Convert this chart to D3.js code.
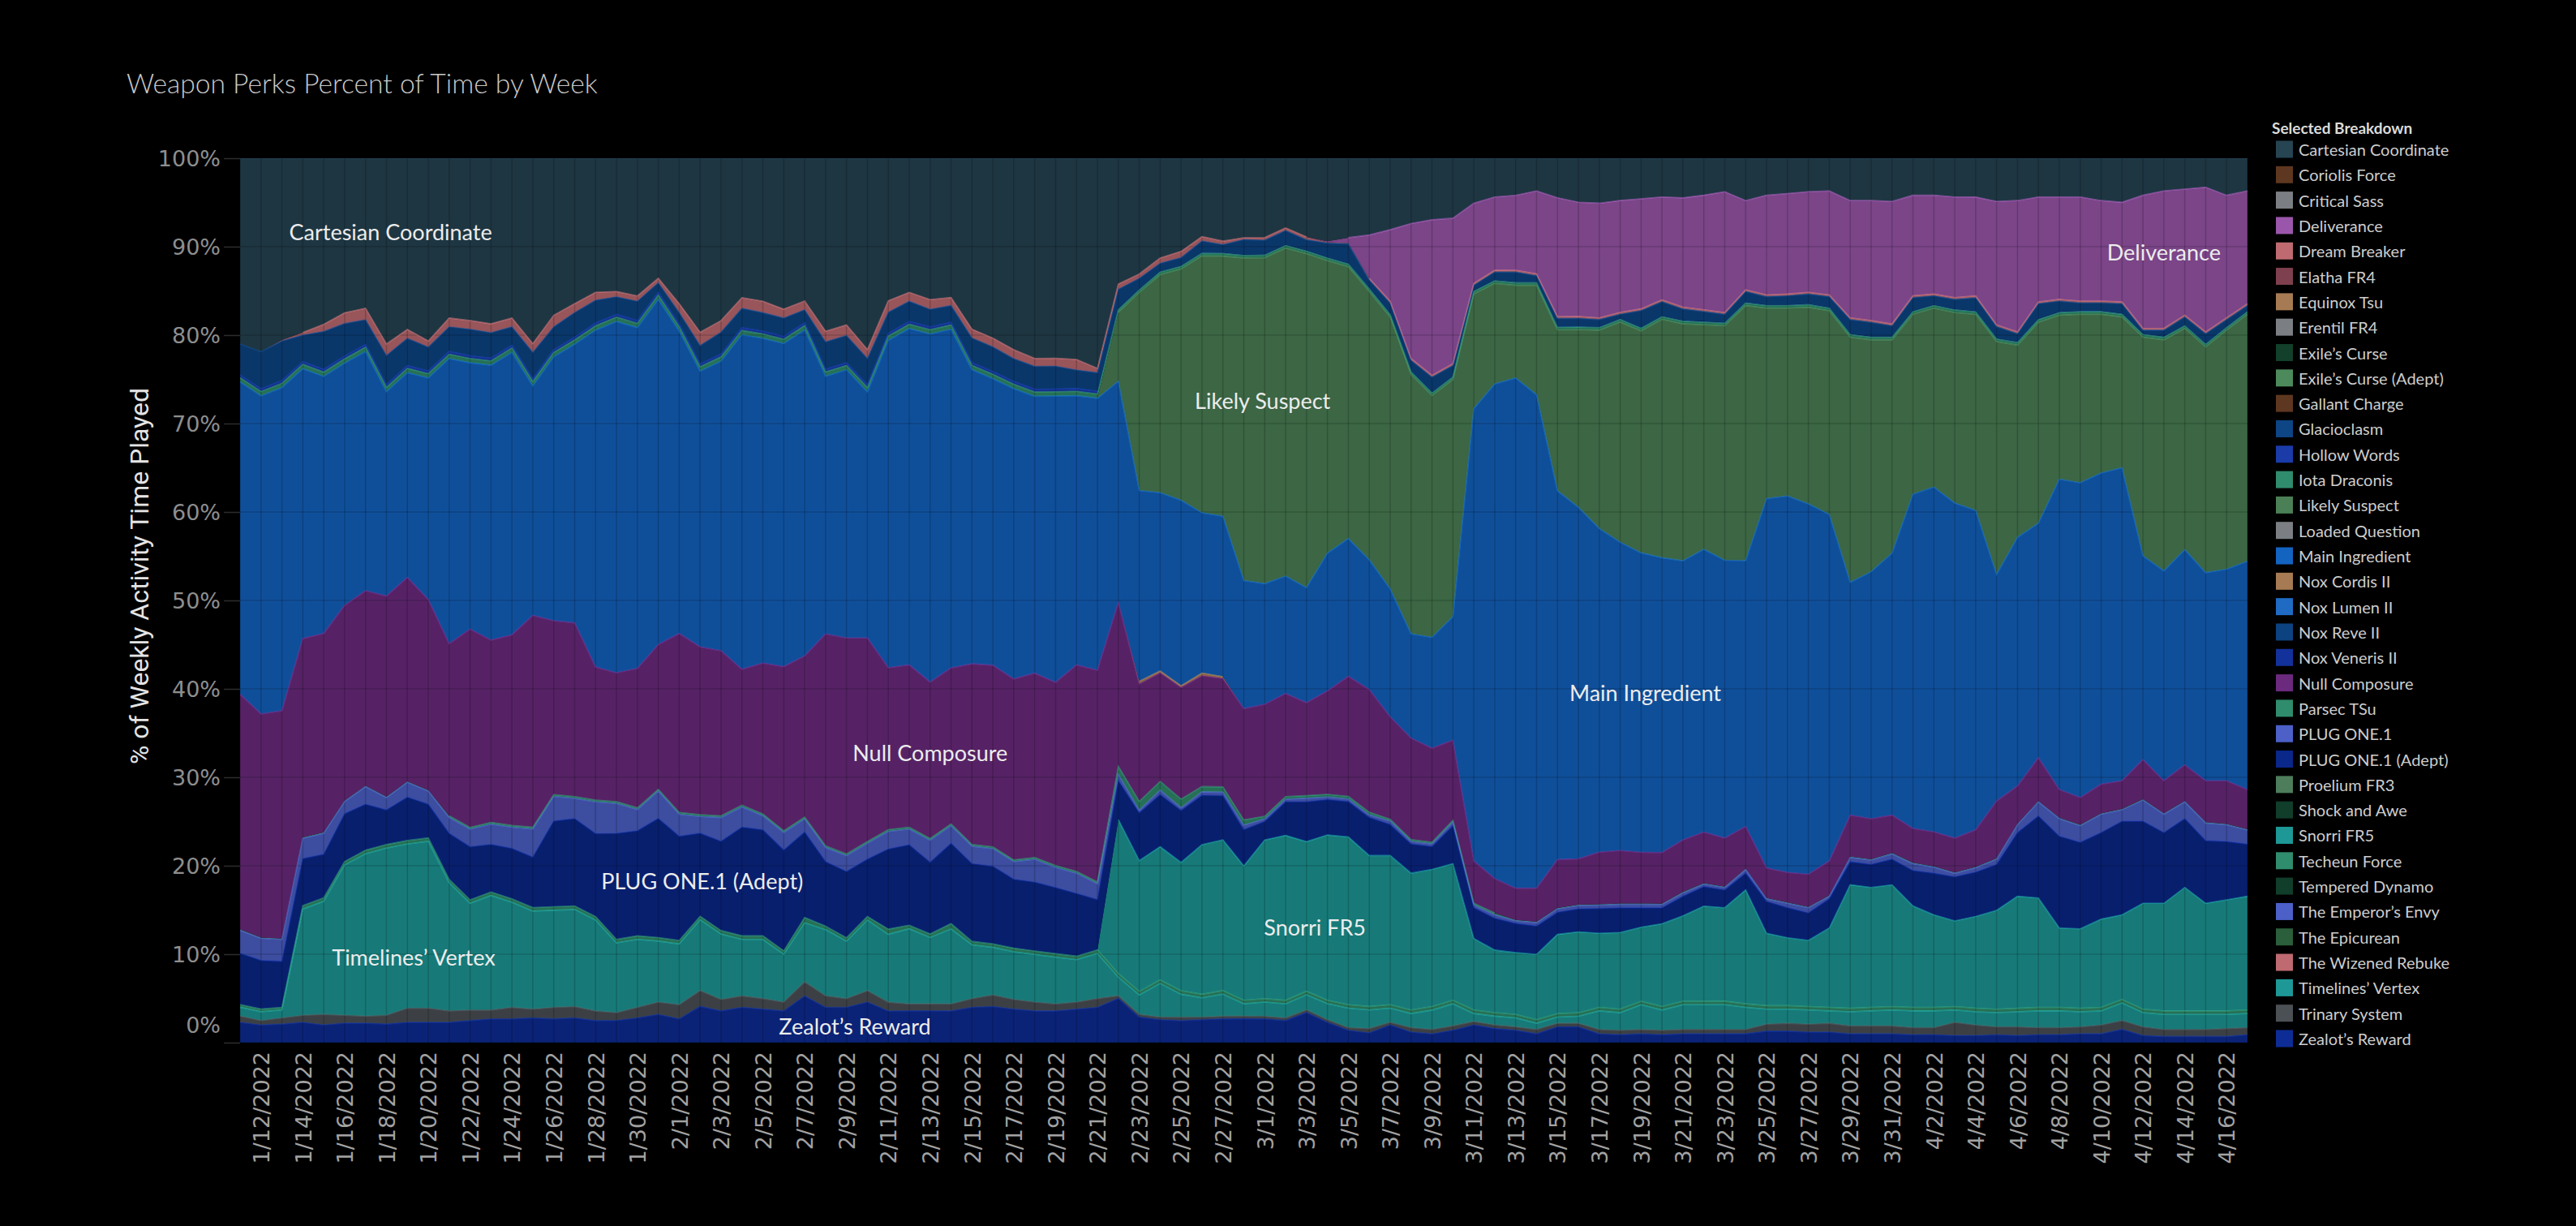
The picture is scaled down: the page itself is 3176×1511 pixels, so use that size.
<!DOCTYPE html>
<html><head><meta charset="utf-8">
<script src="https://cdn.jsdelivr.net/npm/d3@7"></script>
<style>html,body{margin:0;background:#000;}svg{display:block}</style>
</head><body>
<svg id="chart" width="3176" height="1511"></svg>
<script>
// ---------- DATA ----------
const dayLabels = [
"1/11","1/12","1/13","1/14","1/15","1/16","1/17","1/18","1/19","1/20",
"1/21","1/22","1/23","1/24","1/25","1/26","1/27","1/28","1/29","1/30",
"1/31","2/1","2/2","2/3","2/4","2/5","2/6","2/7","2/8","2/9",
"2/10","2/11","2/12","2/13","2/14","2/15","2/16","2/17","2/18","2/19",
"2/20","2/21","2/22","2/23","2/24","2/25","2/26","2/27","2/28","3/1",
"3/2","3/3","3/4","3/5","3/6","3/7","3/8","3/9","3/10","3/11",
"3/12","3/13","3/14","3/15","3/16","3/17","3/18","3/19","3/20","3/21",
"3/22","3/23","3/24","3/25","3/26","3/27","3/28","3/29","3/30","3/31",
"4/1","4/2","4/3","4/4","4/5","4/6","4/7","4/8","4/9","4/10",
"4/11","4/12","4/13","4/14","4/15","4/16","4/17"];
const year = "2022";

const xTickLabels = ["1/12/2022","1/14/2022","1/16/2022","1/18/2022","1/20/2022","1/22/2022","1/24/2022","1/26/2022","1/28/2022","1/30/2022",
"2/1/2022","2/3/2022","2/5/2022","2/7/2022","2/9/2022","2/11/2022","2/13/2022","2/15/2022","2/17/2022","2/19/2022","2/21/2022","2/23/2022","2/25/2022","2/27/2022",
"3/1/2022","3/3/2022","3/5/2022","3/7/2022","3/9/2022","3/11/2022","3/13/2022","3/15/2022","3/17/2022","3/19/2022","3/21/2022","3/23/2022","3/25/2022","3/27/2022","3/29/2022","3/31/2022",
"4/2/2022","4/4/2022","4/6/2022","4/8/2022","4/10/2022","4/12/2022","4/14/2022","4/16/2022"];
const yTickValues = [0,0.1,0.2,0.3,0.4,0.5,0.6,0.7,0.8,0.9,1];
const yTickLabels = ["0%","10%","20%","30%","40%","50%","60%","70%","80%","90%","100%"];

const categories = ["Cartesian Coordinate","Coriolis Force","Critical Sass","Deliverance","Dream Breaker","Elatha FR4","Equinox Tsu","Erentil FR4","Exile’s Curse","Exile’s Curse (Adept)","Gallant Charge","Glacioclasm","Hollow Words","Iota Draconis","Likely Suspect","Loaded Question","Main Ingredient","Nox Cordis II","Nox Lumen II","Nox Reve II","Nox Veneris II","Null Composure","Parsec TSu","PLUG ONE.1","PLUG ONE.1 (Adept)","Proelium FR3","Shock and Awe","Snorri FR5","Techeun Force","Tempered Dynamo","The Emperor’s Envy","The Epicurean","The Wizened Rebuke","Timelines’ Vertex","Trinary System","Zealot’s Reward"];
const categoryColors = ["#264452","#5e3720","#7b7f83","#9a56aa","#be6a70","#7e3f4f","#a67b53","#7b7f83","#12402a","#4d8a5b","#5e3720","#0d4585","#1a3ba8","#2f8c6c","#4b7f55","#7b7f83","#1363c0","#a67b53","#1f6bc4","#0d4280","#13319a","#6b2a7e","#2f8c6c","#4c60c8","#0a278a","#4d7d5b","#113d2b","#1d9896","#2f8c6c","#113d2b","#4c60c8","#2b5e3a","#be6a70","#1d9896","#4b5055","#0e2c95"];

const zealotsReward = [
2.3,2.0,2.1,2.3,2.0,2.2,2.2,2.1,2.3,2.3,
2.3,2.5,2.7,2.7,2.8,2.7,2.8,2.5,2.5,2.8,
3.2,2.7,4.1,3.6,4.0,3.8,3.6,5.3,4.0,4.0,
4.6,3.6,3.6,3.6,3.6,4.0,4.1,3.8,3.6,3.6,
3.8,4.0,5.0,2.9,2.6,2.5,2.6,2.7,2.7,2.7,
2.5,3.4,2.3,1.4,1.1,2.0,1.2,1.0,1.4,2.0,
1.6,1.4,1.0,1.8,1.8,1.0,0.9,1.0,0.9,1.0,
1.0,1.0,1.0,1.3,1.3,1.2,1.2,1.0,1.0,1.0,
0.9,0.9,0.8,0.8,0.9,0.8,0.9,0.9,1.0,1.0,
1.5,0.8,0.7,0.7,0.7,0.7,0.9];
const trinarySystem = [
0.7,0.5,0.7,0.8,1.2,0.9,0.8,1.0,1.6,1.6,
1.3,1.2,1.0,1.3,1.0,1.3,1.3,1.1,0.9,1.2,
1.4,1.6,1.8,1.3,1.3,1.2,1.0,1.6,1.3,1.0,
1.3,1.0,0.8,0.8,0.8,1.0,1.3,1.1,1.0,0.8,
0.8,1.0,0.3,0.3,0.3,0.4,0.3,0.3,0.3,0.3,
0.3,0.3,0.3,0.3,0.5,0.3,0.5,0.5,0.5,0.4,
0.4,0.4,0.5,0.4,0.4,0.5,0.5,0.5,0.5,0.5,
0.5,0.5,0.5,0.8,0.9,0.9,1.0,0.9,0.9,0.9,
0.8,0.8,1.5,1.2,0.9,1.0,0.8,0.8,0.8,1.0,
1.0,1.0,0.8,0.8,0.8,0.9,0.8];
const timelinesVertex = [
1.0,1.0,0.9,12.0,12.8,17.0,18.4,18.9,18.6,18.9,
14.5,12.1,13.0,11.9,11.1,11.0,11.0,10.3,7.9,7.7,
6.9,6.9,8.0,7.4,6.4,6.7,5.4,6.7,7.5,6.5,
8.0,7.7,8.5,7.5,8.5,6.1,5.4,5.4,5.4,5.3,
4.8,5.1,2.1,2.2,3.8,2.6,2.2,2.5,1.4,1.6,
1.6,1.7,1.8,2.2,2.1,1.6,1.6,2.2,2.5,0.9,
1.0,1.0,0.7,0.7,0.8,2.1,2.0,2.8,2.3,2.8,
2.8,2.8,2.5,1.7,1.6,1.6,1.4,1.6,1.7,1.8,
1.9,1.9,1.4,1.5,1.6,1.7,1.9,1.9,1.7,1.6,
2.0,1.6,1.7,1.7,1.7,1.6,1.6];
const techeunForce = [
0.3,0.3,0.3,0.4,0.4,0.4,0.4,0.4,0.4,0.4,
0.4,0.4,0.4,0.4,0.4,0.4,0.4,0.4,0.4,0.4,
0.4,0.4,0.4,0.4,0.4,0.4,0.4,0.6,0.4,0.4,
0.4,0.6,0.4,0.4,0.6,0.4,0.4,0.4,0.4,0.4,
0.4,0.4,0.4,0.4,0.4,0.4,0.4,0.4,0.4,0.4,
0.4,0.4,0.4,0.4,0.4,0.4,0.4,0.4,0.4,0.4,
0.4,0.4,0.4,0.4,0.4,0.4,0.4,0.4,0.4,0.4,
0.4,0.4,0.4,0.4,0.4,0.4,0.4,0.4,0.4,0.4,
0.4,0.4,0.4,0.4,0.4,0.4,0.4,0.4,0.4,0.4,
0.4,0.4,0.4,0.4,0.4,0.4,0.4];
const snorriFR5 = [
0,0,0,0,0,0,0,0,0,0,
0,0,0,0,0,0,0,0,0,0,
0,0,0,0,0,0,0,0,0,0,
0,0,0,0,0,0,0,0,0,0,
0,0,17.4,14.8,15.1,14.6,17.0,17.1,15.2,18.0,
18.7,16.9,18.7,19.0,17.1,16.9,15.5,15.6,15.5,8.1,
7.1,7.0,7.4,9.0,9.2,8.4,8.7,8.4,9.4,9.7,
10.8,10.6,12.9,8.2,7.7,7.5,9.0,14.0,13.6,13.8,
11.5,10.5,9.7,10.4,11.2,12.7,12.4,9.0,9.0,10.0,
9.6,12.0,12.2,14.0,12.2,12.6,12.9];
const plugOneAdept = [
5.8,5.5,5.2,5.3,4.9,5.4,5.2,3.9,4.9,3.8,
5.2,6.0,5.4,5.7,5.7,9.7,9.9,9.4,12.0,11.9,
13.5,11.8,9.4,10.1,12.3,12.0,11.4,9.7,7.3,7.5,
6.5,9.1,9.1,8.1,9.1,8.8,8.8,7.8,7.8,7.5,
7.1,5.7,4.4,5.4,5.9,5.9,5.6,5.0,4.1,2.1,
3.8,4.5,4.0,4.0,4.3,3.5,3.3,2.6,4.3,3.5,
3.6,3.3,3.2,2.5,2.6,2.8,2.8,2.2,1.8,2.2,
2.2,2.0,1.9,3.6,3.4,3.1,3.3,2.6,2.6,2.9,
4.0,4.7,5.0,5.0,5.2,7.2,9.3,10.4,9.8,9.8,
10.6,9.3,8.0,7.8,7.1,6.6,5.9];
const plugOne = [
2.6,2.5,2.5,2.3,2.4,1.4,2.0,1.4,1.7,1.5,
1.8,2.0,2.3,2.4,3.2,2.8,2.3,3.6,3.4,2.4,
3.1,2.5,1.9,2.7,2.3,1.6,2.0,1.5,1.6,1.8,
1.8,2.0,1.8,2.5,2.0,2.0,2.0,2.0,2.6,2.3,
2.3,1.8,0.7,0.3,0.5,0.3,0.4,0.4,0.5,0.3,
0.3,0.4,0.3,0.3,0.3,0.4,0.3,0.3,0.4,0.3,
0.4,0.3,0.4,0.4,0.4,0.4,0.4,0.4,0.4,0.4,
0.3,0.3,0.4,0.3,0.5,0.6,0.3,0.5,0.5,0.6,
0.8,0.7,0.4,0.5,0.6,0.9,1.6,2.0,1.9,2.1,
1.3,2.4,2.1,1.9,2.0,1.9,1.6];
const parsecTSu = [
0.1,0.1,0.1,0.1,0.1,0.1,0.1,0.1,0.1,0.1,
0.2,0.2,0.2,0.2,0.2,0.2,0.2,0.2,0.2,0.2,
0.2,0.2,0.2,0.2,0.2,0.2,0.2,0.2,0.2,0.2,
0.2,0.2,0.2,0.2,0.2,0.2,0.2,0.2,0.2,0.2,
0.2,0.2,0.9,1.0,1.0,1.0,0.6,0.6,0.6,0.3,
0.3,0.3,0.3,0.3,0.3,0.2,0.2,0.2,0.2,0.2,
0.2,0.1,0.1,0.1,0.1,0.1,0.1,0.1,0.1,0.1,
0.1,0.1,0.1,0.1,0.1,0.1,0.1,0.1,0.1,0.1,
0.1,0.1,0.1,0.1,0.1,0.1,0.1,0.1,0.1,0.1,
0.1,0.1,0.1,0.1,0.1,0.1,0.1];
const nullComposure = [
26.6,25.3,25.8,22.5,22.5,22.1,22.1,22.7,23.1,21.6,
19.5,22.5,20.7,21.6,24.0,19.7,19.7,15.1,14.6,15.8,
16.4,20.3,19.0,18.7,15.4,17.1,18.6,18.3,24.0,24.5,
23.1,18.4,18.4,17.7,17.7,20.5,20.6,20.5,20.9,20.8,
23.4,24.0,18.5,13.3,12.3,12.7,12.6,12.3,12.6,12.7,
11.7,10.5,11.7,13.6,13.9,11.6,11.5,10.7,9.1,4.8,
3.9,3.6,3.8,5.5,5.2,5.9,6.0,5.8,5.8,5.9,
5.8,5.5,4.8,3.4,3.4,3.7,3.9,4.7,4.6,4.3,
3.9,3.9,3.9,4.2,6.5,4.3,4.9,3.2,3.1,3.3,
3.2,4.5,3.7,4.1,4.7,4.9,4.5];
const noxCordisII = [
0,0,0,0,0,0,0,0,0,0,
0,0,0,0,0,0,0,0,0,0,
0,0,0,0,0,0,0,0,0,0,
0,0,0,0,0,0,0,0,0,0,
0,0,0,0.3,0.2,0.2,0.3,0.2,0,0,
0,0,0,0,0,0,0,0,0,0,
0,0,0,0,0,0,0,0,0,0,
0,0,0,0,0,0,0,0,0,0,
0,0,0,0,0,0,0,0,0,0,
0,0,0,0,0,0,0];
const mainIngredient = [
35.3,36.0,36.6,30.5,29.1,27.4,27.1,23.1,23.2,25.1,
32.3,30.2,31.2,32.0,26.0,29.9,31.6,38.2,39.8,38.6,
39.1,34.3,31.2,32.8,37.9,36.8,36.6,37.0,29.2,30.4,
27.9,37.2,38.1,39.4,38.4,33.4,32.5,32.9,31.4,32.5,
30.5,30.8,25.0,21.6,20.2,21.1,18.2,18.2,14.5,13.7,
13.3,13.0,15.6,15.6,14.7,14.5,11.8,12.6,14.0,51.3,
56.1,57.8,55.9,41.9,40.0,36.7,35.0,34.0,33.5,31.7,
32.1,31.5,30.1,41.9,42.7,42.0,39.3,26.4,28.0,29.7,
37.9,39.1,38.0,36.2,25.7,28.2,26.6,35.2,35.7,35.3,
35.5,23.1,23.8,24.4,23.6,24.0,25.9];
const likelySuspect = [
0,0,0,0,0,0,0,0,0,0,
0,0,0,0,0,0,0,0,0,0,
0,0,0,0,0,0,0,0,0,0,
0,0,0,0,0,0,0,0,0,0,
0,0,7.8,22.4,24.7,26.3,29.2,29.5,36.5,37.0,
37.2,37.7,33.1,30.8,30.4,30.8,29.4,27.5,26.9,13.0,
11.4,10.5,12.4,18.3,20.2,22.5,25.0,25.2,27.1,26.9,
25.5,26.6,28.9,21.6,21.3,22.3,23.1,27.8,26.3,24.2,
20.4,20.3,21.6,22.2,26.4,21.8,22.8,18.6,19.1,18.0,
17.1,24.8,26.2,25.1,25.6,27.1,28.0];
const iotaDraconis = [
0.5,0.5,0.5,0.5,0.5,0.5,0.5,0.5,0.5,0.5,
0.5,0.5,0.5,0.5,0.5,0.5,0.5,0.5,0.5,0.5,
0.5,0.5,0.5,0.5,0.5,0.5,0.5,0.5,0.5,0.5,
0.5,0.5,0.5,0.5,0.5,0.5,0.5,0.5,0.5,0.5,
0.5,0.5,0.3,0.3,0.3,0.3,0.3,0.3,0.3,0.3,
0.3,0.3,0.3,0.3,0.3,0.3,0.3,0.3,0.3,0.3,
0.3,0.3,0.3,0.3,0.3,0.3,0.3,0.3,0.3,0.3,
0.3,0.3,0.3,0.3,0.3,0.3,0.3,0.3,0.3,0.3,
0.3,0.3,0.3,0.3,0.3,0.3,0.3,0.3,0.3,0.3,
0.3,0.3,0.3,0.3,0.3,0.3,0.3];
const hollowWords = [
0.3,0.3,0.3,0.3,0.3,0.3,0.3,0.3,0.3,0.3,
0.3,0.3,0.3,0.3,0.3,0.3,0.3,0.3,0.3,0.3,
0.3,0.3,0.3,0.3,0.3,0.3,0.3,0.3,0.3,0.3,
0.3,0.3,0.3,0.3,0.3,0.3,0.3,0.3,0.3,0.3,
0.3,0.3,0.1,0.1,0.1,0.1,0.1,0.1,0.1,0.1,
0.1,0.1,0.1,0.1,0.1,0.1,0.1,0.1,0.1,0.1,
0.1,0.1,0.1,0.1,0.1,0.1,0.1,0.1,0.1,0.1,
0.1,0.1,0.1,0.1,0.1,0.1,0.1,0.1,0.1,0.1,
0.1,0.1,0.1,0.1,0.1,0.1,0.1,0.1,0.1,0.1,
0.1,0.1,0.1,0.1,0.1,0.1,0.1];
const glacioclasm = [
3.5,4.2,4.5,3.0,4.3,3.7,2.8,3.3,3.1,2.7,
2.8,3.0,2.9,2.1,3.0,2.6,2.8,2.6,2.0,2.2,
1.1,1.3,2.1,2.5,2.2,2.1,2.1,1.5,3.1,3.1,
3.0,2.4,2.3,2.0,1.9,2.8,2.8,2.6,2.6,2.6,
2.1,2.1,2.2,1.2,0.9,0.9,1.3,0.9,1.7,1.6,
1.6,1.2,1.6,2.2,0.9,1.2,1.2,1.7,1.2,0.6,
0.9,1.1,0.7,0.9,0.9,0.8,0.5,1.9,1.6,1.3,
1.1,0.9,1.2,0.9,1.0,1.1,1.2,1.6,1.6,1.2,
1.5,1.0,1.1,1.5,1.3,0.9,1.7,1.2,0.9,0.9,
1.1,0.4,0.7,0.9,1.1,0.8,0.6];
const deliverance = [
0,0,0,0,0,0,0,0,0,0,
0,0,0,0,0,0,0,0,0,0,
0,0,0,0,0,0,0,0,0,0,
0,0,0,0,0,0,0,0,0,0,
0,0,0,0,0,0,0,0,0,0,
0,0,0.1,0.6,4.9,8.1,15.3,17.7,16.5,9.1,
8.3,8.5,9.4,13.5,13.0,13.0,12.7,12.5,11.7,12.4,
13.0,13.7,10.1,11.3,11.4,11.4,11.8,13.3,13.6,13.9,
11.4,11.2,11.4,11.2,14.0,14.9,11.9,11.6,11.8,11.4,
11.3,15.1,15.6,14.3,16.4,13.9,12.8];
const dreamBreaker = [
0,0,0.1,0.3,0.8,1.2,1.3,1.3,1.0,0.7,
1.0,1.0,1.0,1.0,1.0,1.3,1.0,0.9,0.6,0.6,
0.5,1.0,1.5,1.3,1.2,1.3,1.0,1.0,1.2,1.2,
1.0,1.3,1.0,1.1,0.9,1.0,1.0,1.0,0.9,0.9,
1.2,0.5,0.6,0.5,0.6,0.7,0.5,0.4,0.2,0.3,
0.3,0.3,0.1,0.1,0.2,0.2,0.2,0.2,0.2,0.2,
0.2,0.2,0.2,0.2,0.2,0.2,0.2,0.2,0.2,0.2,
0.2,0.2,0.2,0.2,0.2,0.2,0.2,0.2,0.2,0.2,
0.2,0.2,0.2,0.2,0.2,0.2,0.2,0.2,0.2,0.2,
0.2,0.2,0.2,0.2,0.2,0.2,0.2];
const cartesianCoordinate = [
21.0,21.9,20.6,19.7,18.8,17.5,17.0,21.0,19.4,20.7,
18.1,18.4,18.8,18.1,21.0,17.8,16.5,15.2,15.1,15.6,
13.6,16.5,19.7,18.4,15.8,16.2,17.1,16.2,19.6,18.9,
21.7,16.2,15.2,16.0,15.8,19.4,20.4,21.7,22.7,22.7,
22.8,23.8,14.2,13.1,11.3,10.6,8.9,9.4,9.0,9.0,
7.9,8.9,9.4,9.0,8.7,8.1,7.4,7.0,6.8,5.1,
4.4,4.2,3.7,4.5,5.0,5.1,4.8,4.6,4.4,4.5,
4.2,3.8,4.8,4.2,4.0,3.8,3.7,4.8,4.8,4.9,
4.2,4.2,4.4,4.4,4.9,4.8,4.4,4.4,4.4,4.8,
5.0,4.2,3.7,3.5,3.3,4.2,3.7];

const annotationLabels = ["Cartesian Coordinate","Likely Suspect","Deliverance","Main Ingredient","Null Composure","PLUG ONE.1 (Adept)","Snorri FR5","Timelines’ Vertex","Zealot’s Reward"];
const annotationDay = [7.2, 48.9, 92.0, 67.2, 33.0, 22.1, 51.4, 8.3, 29.4];
const annotationShare = [0.917, 0.726, 0.894, 0.396, 0.328, 0.183, 0.131, 0.097, 0.019];

// ---------- BUILD ----------
const seriesTable = new Map([
  ["Cartesian Coordinate", cartesianCoordinate],
  ["Deliverance", deliverance],
  ["Dream Breaker", dreamBreaker],
  ["Glacioclasm", glacioclasm],
  ["Hollow Words", hollowWords],
  ["Iota Draconis", iotaDraconis],
  ["Likely Suspect", likelySuspect],
  ["Main Ingredient", mainIngredient],
  ["Nox Cordis II", noxCordisII],
  ["Null Composure", nullComposure],
  ["Parsec TSu", parsecTSu],
  ["PLUG ONE.1", plugOne],
  ["PLUG ONE.1 (Adept)", plugOneAdept],
  ["Snorri FR5", snorriFR5],
  ["Techeun Force", techeunForce],
  ["Timelines’ Vertex", timelinesVertex],
  ["Trinary System", trinarySystem],
  ["Zealot’s Reward", zealotsReward]
]);
const colorOf = new Map(categories.map((c, i) => [c, categoryColors[i]]));
const dates = dayLabels.map(d => d + "/" + year);
const stackKeys = categories.slice().reverse().filter(k => seriesTable.has(k));
const rows = dates.map((d, i) => {
  const r = {date: d};
  stackKeys.forEach(k => { r[k] = seriesTable.get(k)[i]; });
  return r;
});
const stacked = d3.stack().keys(stackKeys).offset(d3.stackOffsetExpand)(rows);

const plot = {left: 296, right: 2771, top: 195, bottom: 1285};
const x = d3.scaleLinear().domain([0, dates.length - 1]).range([plot.left, plot.right]);
const y = d3.scaleLinear().domain([0, 1]).range([plot.bottom, plot.top]);

const svg = d3.select("#chart");
svg.append("rect").attr("width", 3176).attr("height", 1511).attr("fill", "#000");

svg.append("defs").append("clipPath").attr("id", "plotclip")
  .append("rect").attr("x", plot.left).attr("y", plot.top)
  .attr("width", plot.right - plot.left).attr("height", plot.bottom - plot.top);

const gPlot = svg.append("g").attr("clip-path", "url(#plotclip)");

const area = d3.area()
  .x((d, i) => x(i)).y0(d => y(d[0])).y1(d => y(d[1]));

gPlot.selectAll("path.area").data(stacked).join("path")
  .attr("class", "area")
  .attr("d", area)
  .attr("fill", d => colorOf.get(d.key))
  .attr("fill-opacity", 0.8);

// faint day columns & horizontal grid
gPlot.selectAll("line.vgrid").data(dates).join("line")
  .attr("x1", (d, i) => x(i)).attr("x2", (d, i) => x(i))
  .attr("y1", plot.top).attr("y2", plot.bottom)
  .attr("stroke", "rgba(0,0,0,0.18)").attr("stroke-width", 1.5);
gPlot.selectAll("line.hgrid").data(yTickValues).join("line")
  .attr("x1", plot.left).attr("x2", plot.right)
  .attr("y1", d => y(d)).attr("y2", d => y(d))
  .attr("stroke", "rgba(0,0,0,0.16)").attr("stroke-width", 1.5);

// thin light edges on top of each area
const edge = d3.line()
  .defined(d => d[1] - d[0] > 0.0015)
  .x((d, i) => x(i)).y(d => y(d[1]));
gPlot.selectAll("path.edge").data(stacked).join("path")
  .attr("class", "edge")
  .attr("d", edge)
  .attr("fill", "none")
  .attr("stroke", d => d3.color(colorOf.get(d.key)).brighter(0.9))
  .attr("stroke-opacity", 0.45)
  .attr("stroke-width", 1.6);

// in-chart annotations
svg.append("g").selectAll("text").data(annotationLabels).join("text")
  .attr("x", (d, i) => x(annotationDay[i]))
  .attr("y", (d, i) => y(annotationShare[i]))
  .attr("text-anchor", "middle")
  .attr("dominant-baseline", "central")
  .attr("font-family", "Lato, 'Noto Sans', sans-serif")
  .attr("font-size", 27)
  .attr("fill", "#ececec")
  .text(d => d);

// y axis
const yAxis = svg.append("g").attr("transform", `translate(${plot.left},0)`)
  .call(d3.axisLeft(y).tickValues(yTickValues)
    .tickFormat((d, i) => yTickLabels[i]).tickSize(20).tickPadding(4));
yAxis.select(".domain").remove();
yAxis.selectAll(".tick line").attr("stroke", "#2c2c2c").attr("stroke-width", 1.5);
yAxis.selectAll(".tick text")
  .attr("font-family", "'DejaVu Sans', sans-serif")
  .attr("font-size", 27).attr("fill", "#8e8e8e")
  .attr("dy", "0.35em")
  .attr("y", d => d === 0 ? -22 : 0);

// x axis
const xTickIdx = xTickLabels.map(l => dates.indexOf(l));
const xAxis = svg.append("g").attr("transform", `translate(0,${plot.bottom})`)
  .call(d3.axisBottom(x).tickValues(xTickIdx)
    .tickFormat((d, i) => xTickLabels[i]).tickSize(0));
xAxis.select(".domain").remove();
xAxis.selectAll(".tick text")
  .attr("transform", "rotate(-90)")
  .attr("x", -11).attr("y", 0).attr("dy", "0.36em")
  .attr("text-anchor", "end")
  .attr("font-family", "'DejaVu Sans', sans-serif")
  .attr("font-size", 27).attr("fill", "#a2a2a2");

// axis title
svg.append("text")
  .attr("transform", "translate(172,710) rotate(-90)")
  .attr("text-anchor", "middle").attr("dominant-baseline", "central")
  .attr("font-family", "'Liberation Sans Narrow', 'Roboto', sans-serif")
  .attr("font-size", 31).attr("fill", "#e4e4e4")
  .attr("textLength", 464).attr("lengthAdjust", "spacingAndGlyphs")
  .text("% of Weekly Activity Time Played");

// chart title
svg.append("text")
  .attr("x", 156).attr("y", 115)
  .attr("font-family", "Lato, 'Noto Sans', sans-serif")
  .attr("font-weight", 300)
  .attr("font-size", 33.6).attr("fill", "#c9c9c9")
  .text("Weapon Perks Percent of Time by Week");

// legend
const legend = svg.append("g");
legend.append("text")
  .attr("x", 2801).attr("y", 157).attr("dominant-baseline", "central")
  .attr("font-family", "Lato, 'Noto Sans', sans-serif")
  .attr("font-weight", 700).attr("font-size", 19).attr("fill", "#dcdcdc")
  .text("Selected Breakdown");
const legendY = d3.scaleLinear().domain([0, categories.length - 1]).range([184, 1280]);
const items = legend.selectAll("g.item").data(categories).join("g")
  .attr("class", "item")
  .attr("transform", (d, i) => `translate(2806,${legendY(i)})`);
items.append("rect").attr("x", 0).attr("y", -10.5).attr("width", 21).attr("height", 21)
  .attr("fill", (d, i) => categoryColors[i]);
items.append("text").attr("x", 28).attr("y", 0).attr("dominant-baseline", "central")
  .attr("font-family", "Lato, 'Noto Sans', sans-serif")
  .attr("font-size", 20).attr("fill", "#cdcdcd")
  .text(d => d);
</script>
</body></html>
